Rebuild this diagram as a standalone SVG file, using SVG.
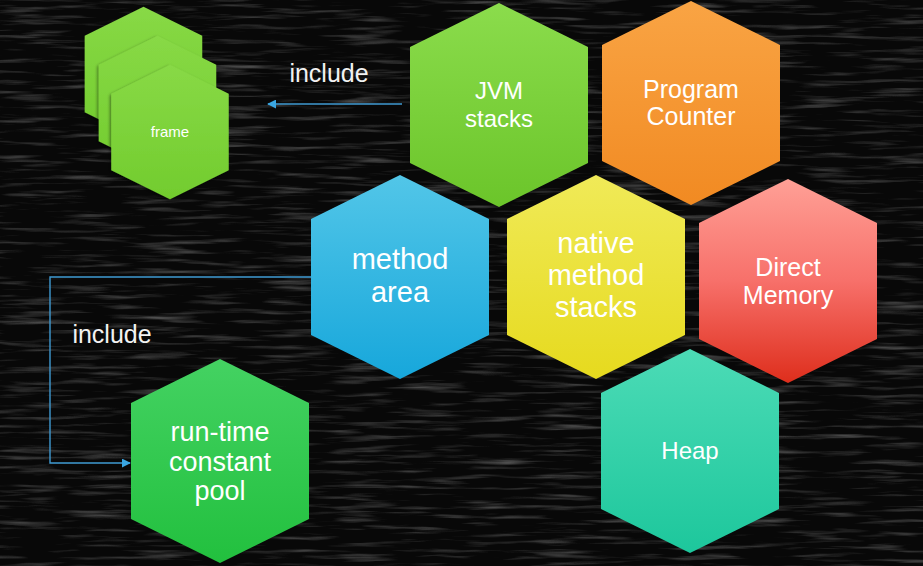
<svg xmlns="http://www.w3.org/2000/svg" xmlns:xlink="http://www.w3.org/1999/xlink" width="923" height="566" viewBox="0 0 923 566">
  <defs>
    <style>
      .t { font-family: "Liberation Sans", Arial, sans-serif; fill: #ffffff; text-anchor: middle; }
      .lbl { font-family: "Liberation Sans", Arial, sans-serif; fill: #f2f2f2; font-size: 25px; }
      .conn { fill: none; stroke: #3f9ad2; stroke-width: 1.4; }
    </style>
    <filter id="chalk" x="0" y="0" width="100%" height="100%" filterUnits="userSpaceOnUse">
      <feTurbulence type="fractalNoise" baseFrequency="0.015 0.2" numOctaves="3" seed="7" result="n"/>
      <feColorMatrix in="n" type="matrix" values="0 0 0 0 0.22  0 0 0 0 0.22  0 0 0 0 0.22  1.4 0 0 0 -0.72"/>
    </filter>
    <filter id="sh" x="-20%" y="-20%" width="140%" height="140%">
      <feDropShadow dx="-2" dy="2" stdDeviation="2.5" flood-color="#000" flood-opacity="0.45"/>
    </filter>
    <polygon id="hex" points="0,-102 89,-58 89,58 0,102 -89,58 -89,-58"/>
    <linearGradient id="gGreen" x1="0" y1="0" x2="0" y2="1">
      <stop offset="0" stop-color="#8bdc4c"/><stop offset="1" stop-color="#6bc52a"/>
    </linearGradient>
    <linearGradient id="gFrame" x1="0" y1="0" x2="0" y2="1">
      <stop offset="0" stop-color="#88d946"/><stop offset="1" stop-color="#72cc2e"/>
    </linearGradient>
    <linearGradient id="gOrange" x1="0" y1="0" x2="0" y2="1">
      <stop offset="0" stop-color="#f9a444"/><stop offset="1" stop-color="#f18a22"/>
    </linearGradient>
    <linearGradient id="gBlue" x1="0" y1="0" x2="0" y2="1">
      <stop offset="0" stop-color="#52c6e8"/><stop offset="1" stop-color="#17a7db"/>
    </linearGradient>
    <linearGradient id="gYellow" x1="0" y1="0" x2="0" y2="1">
      <stop offset="0" stop-color="#f0ea58"/><stop offset="1" stop-color="#e6da1e"/>
    </linearGradient>
    <linearGradient id="gRed" x1="0" y1="0" x2="0" y2="1">
      <stop offset="0" stop-color="#ffa096"/><stop offset="0.5" stop-color="#f7706a"/><stop offset="1" stop-color="#de2e1c"/>
    </linearGradient>
    <linearGradient id="gTeal" x1="0" y1="0" x2="0" y2="1">
      <stop offset="0" stop-color="#4cdbb6"/><stop offset="1" stop-color="#1dc79c"/>
    </linearGradient>
    <linearGradient id="gPool" x1="0" y1="0" x2="0" y2="1">
      <stop offset="0" stop-color="#44d262"/><stop offset="1" stop-color="#22c03e"/>
    </linearGradient>
    <marker id="arr" viewBox="0 0 10 10" refX="9" refY="5" markerWidth="9" markerHeight="9" markerUnits="userSpaceOnUse" orient="auto">
      <path d="M0,0 L10,5 L0,10 z" fill="#3aa6e2"/>
    </marker>
  </defs>

  <rect width="923" height="566" fill="#080808"/>
  <rect width="923" height="566" filter="url(#chalk)"/>

  <g id="connectors">
    <path class="conn" d="M402,104 L268,104" marker-end="url(#arr)"/>
    <path class="conn" d="M311,277 L50,277 L50,463 L130,463" marker-end="url(#arr)"/>
  </g>

  <g id="labels">
    <text class="lbl" x="329" y="82" text-anchor="middle">include</text>
    <text class="lbl" x="112" y="343" text-anchor="middle">include</text>
  </g>

  <g id="frames">
    <use xlink:href="#hex" href="#hex" transform="translate(143.5,74) scale(0.66)" fill="url(#gFrame)" filter="url(#sh)"/>
    <use xlink:href="#hex" href="#hex" transform="translate(157.5,103) scale(0.66)" fill="url(#gFrame)" filter="url(#sh)"/>
    <use xlink:href="#hex" href="#hex" transform="translate(170,132) scale(0.66)" fill="url(#gFrame)" filter="url(#sh)"/>
    <text class="t" x="170" y="137" font-size="15">frame</text>
  </g>

  <g id="jvm-stacks">
    <use xlink:href="#hex" href="#hex" transform="translate(499,105)" fill="url(#gGreen)"/>
    <text class="t" x="499" y="99" font-size="24">JVM</text>
    <text class="t" x="499" y="127" font-size="24">stacks</text>
  </g>

  <g id="program-counter">
    <use xlink:href="#hex" href="#hex" transform="translate(691,103)" fill="url(#gOrange)"/>
    <text class="t" x="691" y="98" font-size="25">Program</text>
    <text class="t" x="691" y="125" font-size="25">Counter</text>
  </g>

  <g id="method-area">
    <use xlink:href="#hex" href="#hex" transform="translate(400,277)" fill="url(#gBlue)"/>
    <text class="t" x="400" y="269" font-size="29">method</text>
    <text class="t" x="400" y="302" font-size="29">area</text>
  </g>

  <g id="native-method-stacks">
    <use xlink:href="#hex" href="#hex" transform="translate(596,277)" fill="url(#gYellow)"/>
    <text class="t" x="596" y="253" font-size="29">native</text>
    <text class="t" x="596" y="285" font-size="29">method</text>
    <text class="t" x="596" y="317" font-size="29">stacks</text>
  </g>

  <g id="direct-memory">
    <use xlink:href="#hex" href="#hex" transform="translate(788,281)" fill="url(#gRed)"/>
    <text class="t" x="788" y="276" font-size="25">Direct</text>
    <text class="t" x="788" y="304" font-size="25">Memory</text>
  </g>

  <g id="heap">
    <use xlink:href="#hex" href="#hex" transform="translate(690,451)" fill="url(#gTeal)"/>
    <text class="t" x="690" y="459" font-size="24">Heap</text>
  </g>

  <g id="run-time-constant-pool">
    <use xlink:href="#hex" href="#hex" transform="translate(220,461)" fill="url(#gPool)"/>
    <text class="t" x="220" y="441" font-size="27">run-time</text>
    <text class="t" x="220" y="471" font-size="27">constant</text>
    <text class="t" x="220" y="500" font-size="27">pool</text>
  </g>
</svg>
